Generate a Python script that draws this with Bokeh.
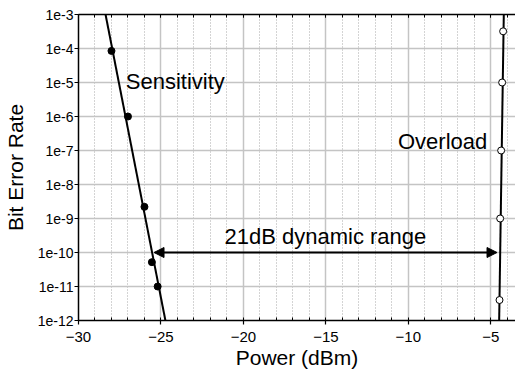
from bokeh.plotting import figure
from bokeh.models import (Range1d, FixedTicker, LinearAxis, CustomJSTickFormatter,
                          Arrow, NormalHead, Label)
from bokeh.embed import file_html
from bokeh.resources import INLINE

# ---- data ----
sens_x = [-28.0, -27.0, -26.0, -25.55, -25.2]
sens_y = [8.5e-5, 1.0e-6, 2.2e-9, 5.2e-11, 1.0e-11]
sens_fit_x = [-28.36, -24.73]
sens_fit_y = [1e-3, 1e-12]

over_x = [-4.25, -4.31, -4.37, -4.43, -4.47]
over_y = [3.2e-4, 1.0e-5, 1.0e-7, 1.0e-9, 4.0e-12]
over_fit_x = [-4.21, -4.49]
over_fit_y = [1e-3, 1e-12]

x_ticks = [-30, -25, -20, -15, -10, -5]
x_minor = list(range(-30, -3))
y_ticks = [1e-12, 1e-11, 1e-10, 1e-9, 1e-8, 1e-7, 1e-6, 1e-5, 1e-4, 1e-3]
y_labels = ["1e-12", "1e-11", "1e-10", "1e-9", "1e-8", "1e-7", "1e-6", "1e-5", "1e-4", "1e-3"]

arrow_x = [-25.42, -4.62]
arrow_y = 1e-10

FONT = "Liberation Sans"

p = figure(width=515, height=371, output_backend="svg", toolbar_location=None,
           y_axis_type="log", x_range=Range1d(-30, -3.5), y_range=Range1d(1e-12, 1e-3),
           min_border_left=73, min_border_top=14, min_border_right=0, min_border_bottom=45)
p.outline_line_color = None
p.background_fill_color = "white"

# grids
p.xgrid.ticker = FixedTicker(ticks=x_ticks, minor_ticks=x_minor)
p.xgrid.grid_line_color = "#c4c4c4"
p.xgrid.grid_line_width = 1.5
p.xgrid.minor_grid_line_color = "#a8a8a8"
p.xgrid.minor_grid_line_dash = "1 2"
p.xgrid.minor_grid_line_width = 1
p.ygrid.ticker = FixedTicker(ticks=y_ticks, minor_ticks=[])
p.ygrid.grid_line_color = "#c4c4c4"
p.ygrid.grid_line_width = 1.5

# x axis
xa = p.xaxis[0]
xa.ticker = FixedTicker(ticks=x_ticks, minor_ticks=x_minor)
xa.axis_label = "Power (dBm)"
xa.axis_label_text_font = FONT
xa.axis_label_text_font_size = "21px"
xa.axis_label_text_font_style = "normal"
xa.axis_label_text_color = "black"
xa.axis_label_standoff = 1
xa.major_label_text_font = FONT
xa.major_label_text_font_size = "15px"
xa.major_label_text_color = "black"
xa.major_label_standoff = 7
xa.major_tick_in = 0
xa.major_tick_out = 4
xa.minor_tick_in = 3
xa.minor_tick_out = 0
xa.axis_line_color = "black"
xa.major_tick_line_color = "black"
xa.minor_tick_line_color = "black"
xa.axis_line_width = 1.5
xa.major_tick_line_width = 1.2
xa.minor_tick_line_width = 1

# y axis
ya = p.yaxis[0]
ya.ticker = FixedTicker(ticks=y_ticks, minor_ticks=[])
ya.formatter = CustomJSTickFormatter(args=dict(labels=y_labels),
                                     code="return labels[Math.round(Math.log10(tick)) + 12];")
ya.axis_label = "Bit Error Rate"
ya.axis_label_text_font = FONT
ya.axis_label_text_font_size = "21px"
ya.axis_label_text_font_style = "normal"
ya.axis_label_text_color = "black"
ya.axis_label_standoff = 8
ya.major_label_text_font = FONT
ya.major_label_text_font_size = "14px"
ya.major_label_text_color = "black"
ya.major_label_standoff = 1
ya.major_tick_in = 0
ya.major_tick_out = 4
ya.axis_line_color = "black"
ya.major_tick_line_color = "black"
ya.axis_line_width = 1.5

# top axis (ticks only)
ta = LinearAxis(ticker=FixedTicker(ticks=x_ticks, minor_ticks=x_minor),
                formatter=CustomJSTickFormatter(code="return '';"),
                major_label_text_font_size="0px", major_label_standoff=0,
                major_tick_in=3, major_tick_out=0, minor_tick_in=3, minor_tick_out=0,
                major_tick_line_color="black", minor_tick_line_color="black",
                axis_line_color="black", axis_line_width=1.5)
p.add_layout(ta, "above")

# lines and points
p.line(sens_fit_x, sens_fit_y, line_color="black", line_width=2)
p.scatter(sens_x, sens_y, size=7, fill_color="black", line_color="black")
p.line(over_fit_x, over_fit_y, line_color="black", line_width=2)
p.scatter(over_x, over_y, size=7, fill_color="white", line_color="black", line_width=1)

# arrow
p.add_layout(Arrow(x_start=arrow_x[0], y_start=arrow_y, x_end=arrow_x[1], y_end=arrow_y,
                   line_width=2, line_color="black",
                   start=NormalHead(size=10, fill_color="black", line_color="black"),
                   end=NormalHead(size=10, fill_color="black", line_color="black")))

# labels
for txt, x, y in [("Sensitivity", -24.13, 10**-4.975),
                  ("Overload", -7.92, 10**-6.74),
                  ("21dB dynamic range", -15.03, 10**-9.517)]:
    p.add_layout(Label(x=x, y=y, text=txt, text_align="center", text_baseline="alphabetic",
                       text_font=FONT, text_font_size="22px", text_color="black"))

open("out.html", "w").write(file_html(p, INLINE))
